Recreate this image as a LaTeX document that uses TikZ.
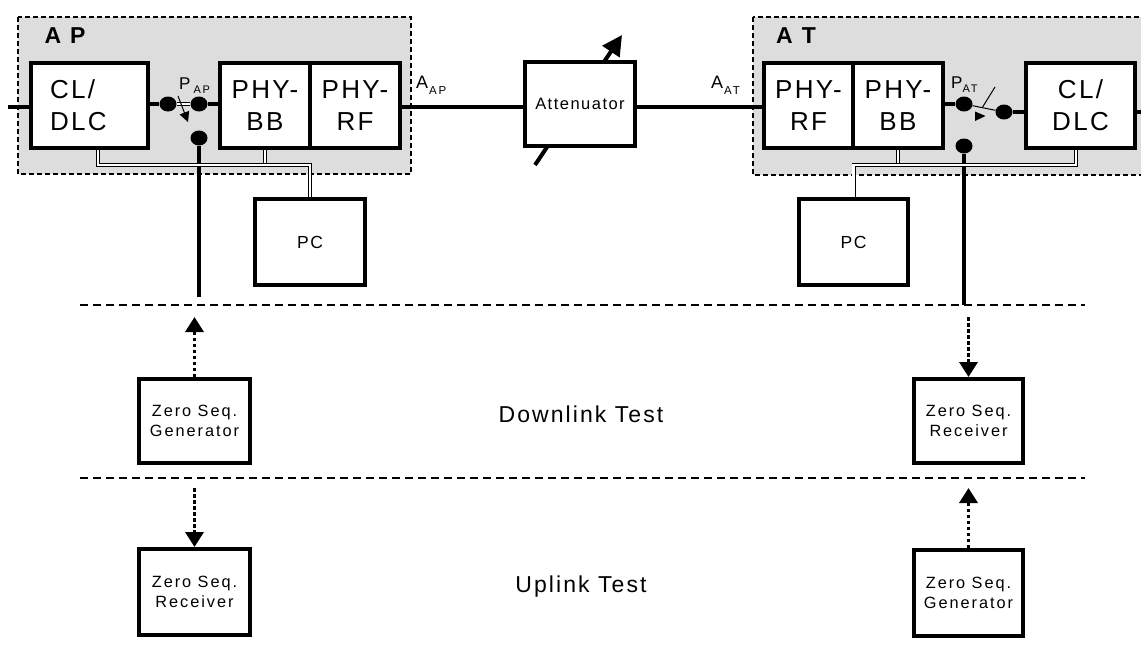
\documentclass[tikz,border=0pt]{standalone}
\usepackage{fontspec}
\setmainfont{Liberation Sans}[LetterSpace=9]
\newfontfamily\widefont{Liberation Sans}[LetterSpace=12]
\newfontfamily\subfont{Liberation Sans}[LetterSpace=16]
\usetikzlibrary{arrows.meta,shapes.geometric}
\definecolor{bggray}{RGB}{221,221,221}
\begin{document}
\begin{tikzpicture}[x=1pt,y=-1pt,
  blk/.style={draw, line width=4pt, fill=white, inner sep=0pt, align=center},
  bigtxt/.style={font=\fontsize{26}{32}\selectfont},
  zstxt/.style={font=\widefont\fontsize{16.3}{20}\selectfont},
  region/.style={draw, line width=1.3pt, dash pattern=on 5pt off 3pt, fill=bggray},
  sepline/.style={line width=2pt, dash pattern=on 8pt off 5pt},
  conn/.style={line width=3.5pt},
  dbl/.style={line width=0.9pt, double=white, double distance=2.2pt},
  dotarrow/.style={line width=3.5pt, dash pattern=on 3.5pt off 2.5pt, -{Triangle[length=15pt,width=18pt]}},
  dotnode/.style={ellipse, fill=black, minimum width=17pt, minimum height=15pt, inner sep=0pt},
  sw/.style={line width=1pt},
  lbl/.style={inner sep=0pt, anchor=base west},
]
\useasboundingbox (0,0) rectangle (1141,646);

% background regions
\draw[region] (18,17) rectangle (411,174);
\draw[region] (753,17) rectangle (1160,175);

\node[inner sep=0pt, font=\fontsize{23}{23}\selectfont\bfseries] (aplbl) at (65,36) {A\hspace{9pt}P};
\node[inner sep=0pt, font=\fontsize{23}{23}\selectfont\bfseries] (atlbl) at (796,36) {A\hspace{9pt}T};

% attenuator arrow (under the box)
\coordinate (attlo) at (535,165);
\coordinate (atthi) at (622,35);
\draw[line width=4pt, -{Triangle[length=20pt,width=20pt]}] (attlo) -- (atthi);

% blocks
\node[blk,bigtxt,minimum width=117pt,minimum height=85pt,text width=79pt,align=left] (apcl) at (89.5,105.5) {CL/\\DLC};
\node[blk,bigtxt,minimum width=90pt,minimum height=85pt] (apbb) at (265,105.5) {PHY-\\BB};
\node[blk,bigtxt,minimum width=90pt,minimum height=85pt] (aprf) at (355,105.5) {PHY-\\RF};
\node[blk,font=\fontsize{16.5}{20}\selectfont,minimum width=110pt,minimum height=84pt] (att) at (580,104) {Attenuator};
\node[blk,bigtxt,minimum width=89pt,minimum height=85pt] (atrf) at (808.5,105.5) {PHY-\\RF};
\node[blk,bigtxt,minimum width=90pt,minimum height=85pt] (atbb) at (898,105.5) {PHY-\\BB};
\node[blk,bigtxt,minimum width=109pt,minimum height=85pt] (atcl) at (1080.5,105.5) {CL/\\DLC};
\node[blk,font=\fontsize{17.5}{20}\selectfont,minimum width=110pt,minimum height=86pt] (appc) at (310,242) {PC};
\node[blk,font=\fontsize{17.5}{20}\selectfont,minimum width=109pt,minimum height=86pt] (atpc) at (853.5,242) {PC};
\node[blk,zstxt,minimum width=111pt,minimum height=84pt] (apgen) at (194.5,421) {Zero Seq.\\Generator};
\node[blk,zstxt,minimum width=111pt,minimum height=86pt] (aprec) at (194.5,592) {Zero Seq.\\Receiver};
\node[blk,zstxt,minimum width=109pt,minimum height=84pt] (atrec) at (968.5,421) {Zero Seq.\\Receiver};
\node[blk,zstxt,minimum width=109pt,minimum height=86pt] (atgen) at (968.5,593) {Zero Seq.\\Generator};

% switch dots
\node[dotnode] (apd1) at (168,104) {};
\node[dotnode] (apd2) at (199,104) {};
\node[dotnode] (apd3) at (199,138) {};
\node[dotnode] (atd1) at (964,104) {};
\node[dotnode] (atd2) at (1004,112) {};
\node[dotnode] (atd3) at (964,146) {};

% main signal path
\coordinate (lin) at (8,107);
\coordinate (mainy) at (0,107);
\coordinate (rout) at (1141,112);
\draw[conn] (lin) -- (lin -| apcl.west);
\draw[conn] (apd1 -| apcl.east) -- (apd1);
\draw[dbl] (apd1) -- (apd2);
\draw[conn] (apd2) -- (apd2 -| apbb.west);
\draw[conn] (aprf.east |- mainy) -- (att.west |- mainy);
\draw[conn] (att.east |- mainy) -- (atrf.west |- mainy);
\draw[conn] (atbb.east |- atd1) -- (atd1);
\draw[sw] (atd1) -- (atd2);
\draw[conn] (atd2) -- (atd2 -| atcl.west);
\draw[conn] (atcl.east |- rout) -- (rout);

% switch arrows
\coordinate (apswa) at (178,96);
\coordinate (apswb) at (188,122);
\draw[sw, -{Triangle[length=10pt,width=10pt]}] (apswa) -- (apswb);
\coordinate (atswa) at (995,87);
\coordinate (atswb) at (982,108);
\draw[sw] (atswa) -- (atswb);
\fill (975,111.5) -- (975,121) -- (985.5,116) -- cycle;

% test port lines
\coordinate (apvend) at (0,297);
\coordinate (atvend) at (0,305);
\draw[conn] (apd3) -- (apd3 |- apvend);
\draw[conn] (atd3) -- (atd3 |- atvend);

% separators
\coordinate (s1l) at (80,305);
\coordinate (s1r) at (1085,305);
\coordinate (s2l) at (80,478);
\coordinate (s2r) at (1085,478);
\draw[sepline] (s1l) -- (s1r);
\draw[sepline] (s2l) -- (s2r);

% PC control lines
\coordinate (apj) at (0,165);
\coordinate (atj) at (0,165);
\coordinate (apclx) at (98,0);
\coordinate (atclx) at (1076,0);
\draw[dbl] (apbb.south) -- (apbb.south |- apj);
\draw[dbl] (apcl.south -| apclx) -- (apclx |- apj) -- (appc.north |- apj) -- (appc.north);
\draw[dbl] (atbb.south) -- (atbb.south |- atj);
\draw[dbl] (atpc.north) -- (atpc.north |- atj) -- (atclx |- atj) -- (atcl.south -| atclx);

% test arrows
\coordinate (up1) at (0,317);
\coordinate (up2) at (0,488);
\draw[dotarrow] (apgen.north) -- (apgen.north |- up1);
\draw[dotarrow] (apgen.south |- up2) -- (aprec.north);
\draw[dotarrow] (atrec.north |- up1) -- (atrec.north);
\draw[dotarrow] (atgen.north) -- (atgen.north |- up2);

% labels
\node[lbl, font=\fontsize{18}{18}\selectfont] (aaplbl) at (416,88) {A\hspace{1pt}\raisebox{-6pt}{\subfont\fontsize{11.5}{12}\selectfont AP}};
\node[lbl, font=\fontsize{18}{18}\selectfont] (aatlbl) at (711,88) {A\hspace{1pt}\raisebox{-6pt}{\subfont\fontsize{11.5}{12}\selectfont AT}};
\node[lbl, font=\fontsize{17}{17}\selectfont] (paplbl) at (179,89) {P\hspace{3pt}\raisebox{-4pt}{\subfont\fontsize{11}{12}\selectfont AP}};
\node[lbl, font=\fontsize{17}{17}\selectfont] (patlbl) at (951,88) {P\raisebox{-4pt}{\subfont\fontsize{11}{12}\selectfont AT}};
\node[font=\fontsize{23}{23}\selectfont, inner sep=0pt] (dltest) at (581,414) {Downlink Test};
\node[font=\fontsize{23}{23}\selectfont, inner sep=0pt] (ultest) at (581,587) {Uplink Test};
\end{tikzpicture}
\end{document}
